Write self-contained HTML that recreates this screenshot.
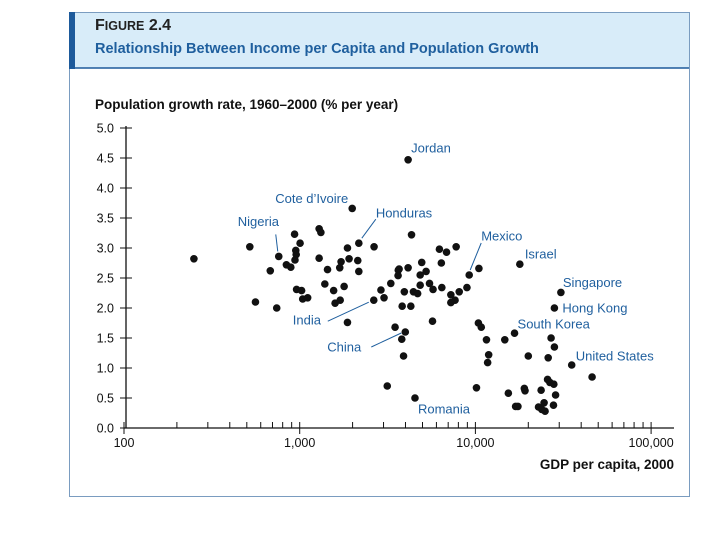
<!DOCTYPE html>
<html><head><meta charset="utf-8"><style>
body{margin:0;background:#fff;width:720px;height:540px;overflow:hidden;font-family:"Liberation Sans","DejaVu Sans",sans-serif}
</style></head><body>
<svg width="720" height="540" xmlns="http://www.w3.org/2000/svg" font-family="Liberation Sans, DejaVu Sans, sans-serif">
<rect x="69.5" y="12.5" width="620" height="484" fill="#fff" stroke="#7a9cc0" stroke-width="1"/>
<rect x="70" y="13" width="619" height="55" fill="#d8ecf9"/>
<rect x="69" y="12" width="6" height="57" fill="#1d5a9b"/>
<line x1="69" y1="68" x2="689" y2="68" stroke="#1d5a9b" stroke-width="1.5"/>
<text x="95" y="30" font-size="16" font-weight="bold" fill="#222">F<tspan font-size="12.5">IGURE</tspan> 2.4</text>
<text x="95" y="53" font-size="14.5" font-weight="bold" fill="#1f5f9e">Relationship Between Income per Capita and Population Growth</text>
<text x="95" y="109" font-size="13.5" font-weight="bold" fill="#111">Population growth rate, 1960–2000 (% per year)</text>
<text x="674" y="469" font-size="13.5" font-weight="bold" fill="#111" text-anchor="end">GDP per capita, 2000</text>
<g id="axes"></g>
<g id="pts"></g>
<g id="labels"></g>
</svg>
<script>
const gdp = [250,520,560,680,740,760,840,890,935,950,955,940,1005,960,1025,1040,1110,1290,1320,1290,1440,1390,1560,1590,1700,1690,1720,1790,1870,1870,1910,1990,2170,2140,2170,2650,2640,3020,2900,3300,3490,3150,3640,3630,
4140,4330,6240,6850,7770,6400,4950,5240,4850,3680,4140,3940,4440,4690,4850,5480,5740,6440,7250,7660,7250,8090,8950,9220,10470,3830,4290,5700,3990,3810,3900,4530,10140,10400,10800,11560,11900,11740,14700,16700,17900,20000,15400,18990,19160,16940,17460,23660,22870,24600,24920,23880,25750,26540,27950,28600,27820,25960,26960,28160,30660,28160,35330,46150];
const growth = [2.82,3.02,2.10,2.62,2.00,2.86,2.72,2.68,3.23,2.96,2.89,2.80,3.08,2.31,2.29,2.15,2.17,3.32,3.26,2.83,2.64,2.40,2.29,2.08,2.13,2.67,2.77,2.36,1.76,3.00,2.82,3.66,3.08,2.79,2.61,3.02,2.13,2.17,2.30,2.41,1.68,0.70,2.63,2.54,
4.47,3.22,2.98,2.93,3.02,2.75,2.76,2.61,2.55,2.65,2.67,2.27,2.27,2.24,2.38,2.41,2.31,2.34,2.22,2.13,2.09,2.27,2.34,2.55,2.66,2.03,2.03,1.78,1.60,1.48,1.20,0.50,0.67,1.75,1.68,1.47,1.22,1.09,1.47,1.58,2.73,1.20,0.58,0.66,0.62,0.36,0.36,0.63,0.35,0.42,0.28,0.31,0.81,0.76,0.73,0.55,0.38,1.17,1.50,1.35,2.26,2.00,1.05,0.85];
const yTicks = [0,0.5,1,1.5,2,2.5,3,3.5,4,4.5,5];
const yTickLabels = ["0.0","0.5","1.0","1.5","2.0","2.5","3.0","3.5","4.0","4.5","5.0"];
const xMajor = [100,1000,10000,100000];
const xMajorLabels = ["100","1,000","10,000","100,000"];
const labelNames = ["Jordan","Cote d\u2019Ivoire","Nigeria","Honduras","Mexico","Israel","Singapore","Hong Kong","South Korea","United States","India","China","Romania"];
const labelGdp = [4140,1990,760,2170,9220,17900,30660,28160,16700,35330,2640,3990,4530];
const labelGrowth = [4.47,3.66,2.86,3.08,2.55,2.73,2.26,2.00,1.58,1.05,2.13,1.60,0.50];

const X = v => 124 + (Math.log10(v) - 2) * 175.7;
const Y = v => 428 - v * 60;
const NS = "http://www.w3.org/2000/svg";
function mk(tag, attrs, parent){const e=document.createElementNS(NS,tag);for(const k in attrs)e.setAttribute(k,attrs[k]);parent.appendChild(e);return e;}
const ax = document.getElementById('axes');
let l = mk('line',{x1:126,y1:Y(5)-2,x2:126,y2:Y(0),stroke:'#111','stroke-width':1.3},ax);


l = mk('line',{x1:124,y1:Y(0),x2:674,y2:Y(0),stroke:'#111','stroke-width':1.3},ax);


yTicks.forEach((t,i)=>{
  const tk = mk('line',{x1:120,y1:Y(t),x2:132,y2:Y(t),stroke:'#111','stroke-width':1},ax);
  
  
  const tx = mk('text',{x:114,y:Y(t)+4.5,'font-size':12.5,'text-anchor':'end',fill:'#111'},ax);
  tx.textContent = yTickLabels[i];
  
  
});
for(let d=100; d<=100000; d*=10){
  for(let m=1;m<10;m++){
    const v=d*m; if(v>100000 && m>1) break;
    if(m===1){
      const tk = mk('line',{x1:X(v),y1:Y(0)-6,x2:X(v),y2:Y(0)+6,stroke:'#111','stroke-width':1},ax);
      
      
    } else {
      const tk = mk('line',{x1:X(v),y1:Y(0)-6,x2:X(v),y2:Y(0),stroke:'#111','stroke-width':1},ax);
      
      
    }
  }
}
xMajor.forEach((v,i)=>{
  const tx = mk('text',{x:X(v),y:Y(0)+19,'font-size':12.5,'text-anchor':'middle',fill:'#111'},ax);
  tx.textContent = xMajorLabels[i];
  
  
});
const pg = document.getElementById('pts');
gdp.forEach((g,i)=>{
  const c = mk('circle',{cx:X(g),cy:Y(growth[i]),r:3.8,fill:'#111'},pg);
  
  
});
const offs = [[3,-12,'start',0],[-4,-10,'end',0],[-41,-35,'start',1],[17,-30,'start',1],[12,-39,'start',1],[5,-10,'start',0],[2,-10,'start',0],[8,0,'start',0],[3,-9,'start',0],[4,-9,'start',0],[-81,20,'start',1],[-78,15,'start',1],[3,11,'start',0]];
const lg = document.getElementById('labels');
labelNames.forEach((n,i)=>{
  const px=X(labelGdp[i]), py=Y(labelGrowth[i]); const o=offs[i];
  const tx = mk('text',{x:px+o[0],y:py+o[1]+4.5,'font-size':13,'text-anchor':o[2],fill:'#1f5f9e'},lg);
  tx.textContent = n;
  
  
  if(o[3]){
    let x1,y1,x2=px,y2=py;
    if(n==='Nigeria'){x1=px-3;y1=py-22;x2=px-1;y2=py-5;}
    else if(n==='Honduras'){x1=px+17;y1=py-24;x2=px+3;y2=py-5;}
    else if(n==='Mexico'){x1=px+12;y1=py-32;x2=px+1;y2=py-5;}
    else if(n==='India'){x1=px-46;y1=py+21;x2=px-5;y2=py+2;}
    else {x1=px-34;y1=py+15;x2=px-4;y2=py+1;}
    const ln = mk('line',{x1,y1,x2,y2,stroke:'#1f5f9e','stroke-width':1},lg);
    
    
  }
});
</script>
</body></html>
